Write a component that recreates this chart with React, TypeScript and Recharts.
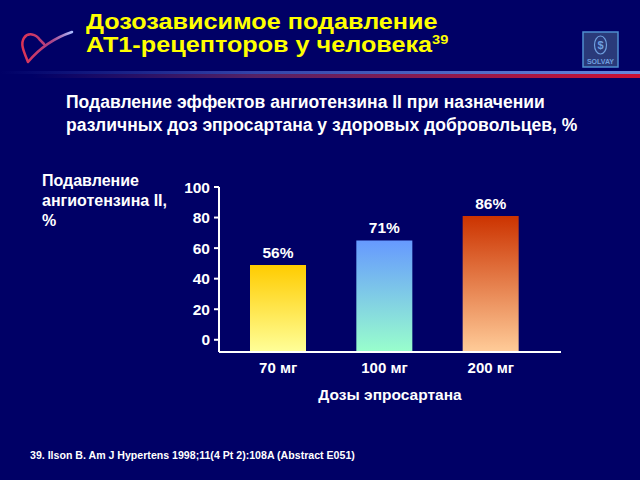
import { BarChart, Bar, XAxis, YAxis, Cell, LabelList } from "recharts";

// dose categories and measured bar tops (the axis line sits below zero)
const doses = ["70 мг", "100 мг", "200 мг"];
const barTops = [49, 65, 81];
const barLabels = ["56%", "71%", "86%"];
const yTicks = [0, 20, 40, 60, 80, 100];
const AXIS_MIN = -8;

const gradients = [
  { id: "g0", top: "#ffcc00", bottom: "#ffff99" },
  { id: "g1", top: "#6699ff", bottom: "#99ffcc" },
  { id: "g2", top: "#cc3300", bottom: "#ffcc99" },
];

const data = doses.map((dose, i) => ({
  dose,
  range: [AXIS_MIN, barTops[i]],
  label: barLabels[i],
}));

const FONT = '"Liberation Sans", Arial, sans-serif';

export default function App() {
  return (
    <div
      style={{
        position: "absolute",
        left: 0,
        top: 0,
        width: 640,
        height: 480,
        background: "#000066",
        fontFamily: FONT,
        fontWeight: "bold",
        overflow: "hidden",
      }}
    >
      {/* heart logo */}
      <svg style={{ position: "absolute", left: 14, top: 24 }} width={64} height={44}>
        <defs>
          <linearGradient id="heart" x1="0" y1="0" x2="1" y2="0">
            <stop offset="0%" stopColor="#dd3355" />
            <stop offset="60%" stopColor="#aa4488" />
            <stop offset="100%" stopColor="#aabbff" />
          </linearGradient>
        </defs>
        <path
          d="M14 38 C10 28 6 20 10 14 C14 8 22 10 26 16 L30 20 M14 38 C24 26 40 14 58 8"
          stroke="url(#heart)"
          strokeWidth={2.5}
          fill="none"
          strokeLinecap="round"
        />
      </svg>

      <div
        style={{
          position: "absolute",
          left: 86,
          top: 10,
          color: "#ffff00",
          fontSize: 22.5,
          lineHeight: "23px",
          transform: "scaleX(1.12)",
          transformOrigin: "left top",
          whiteSpace: "nowrap",
        }}
      >
        Дозозависимое подавление
        <br />
        АТ1-рецепторов у человека
        <sup style={{ fontSize: 13, verticalAlign: "8px", lineHeight: 0 }}>39</sup>
      </div>

      {/* Solvay logo */}
      <svg style={{ position: "absolute", left: 582, top: 31 }} width={38} height={38}>
        <rect x={1} y={1} width={35} height={35} fill="#2a3a7a" stroke="#4f8fcf" strokeWidth={1.5} />
        <ellipse cx={18.5} cy={14} rx={6} ry={9} fill="none" stroke="#6f9fdf" strokeWidth={1.2} />
        <text x={18.5} y={18} fill="#6f9fdf" fontSize={11} textAnchor="middle" fontFamily={FONT}>
          $
        </text>
        <text x={18.5} y={33} fill="#6f9fdf" fontSize={7} textAnchor="middle" fontFamily={FONT}>
          SOLVAY
        </text>
      </svg>

      {/* separator stripes */}
      <div
        style={{
          position: "absolute",
          left: 0,
          top: 71,
          width: 640,
          height: 3,
          background: "linear-gradient(to right, #000066 0%, #3344aa 40%, #6688dd 100%)",
        }}
      />
      <div
        style={{
          position: "absolute",
          left: 0,
          top: 74,
          width: 640,
          height: 4,
          background: "linear-gradient(to right, #000066 5%, #552266 40%, #cc1133 100%)",
        }}
      />

      <div
        style={{
          position: "absolute",
          left: 66,
          top: 91,
          color: "#ffffff",
          fontSize: 17.5,
          lineHeight: "23px",
        }}
      >
        Подавление эффектов ангиотензина II при назначении
        <br />
        различных доз эпросартана у здоровых добровольцев, %
      </div>

      <div
        style={{
          position: "absolute",
          left: 42,
          top: 171,
          color: "#ffffff",
          fontSize: 16,
          lineHeight: "20px",
        }}
      >
        Подавление
        <br />
        ангиотензина II,
        <br />%
      </div>

      <div style={{ position: "absolute", left: 0, top: 0 }}>
        <BarChart
          width={640}
          height={480}
          data={data}
          margin={{ top: 187, right: 79, bottom: 68, left: 159 }}
          barSize={56}
        >
          <defs>
            {gradients.map((g) => (
              <linearGradient key={g.id} id={g.id} x1="0" y1="0" x2="0" y2="1">
                <stop offset="0%" stopColor={g.top} />
                <stop offset="100%" stopColor={g.bottom} />
              </linearGradient>
            ))}
          </defs>
          <XAxis
            dataKey="dose"
            height={60}
            padding={{ left: 6, right: 17 }}
            axisLine={{ stroke: "#ffffff", strokeWidth: 2 }}
            tickLine={false}
            tickSize={0}
            tickMargin={10}
            tick={{ fill: "#ffffff", fontSize: 15, fontWeight: "bold", fontFamily: FONT }}
            label={{
              value: "Дозы эпросартана",
              position: "insideBottom",
              offset: 12,
              fill: "#ffffff",
              fontSize: 15.5,
              fontWeight: "bold",
              fontFamily: FONT,
            }}
          />
          <YAxis
            width={60}
            domain={[AXIS_MIN, 100]}
            ticks={yTicks}
            interval={0}
            allowDataOverflow
            axisLine={{ stroke: "#ffffff", strokeWidth: 2 }}
            tickLine={{ stroke: "#ffffff", strokeWidth: 2 }}
            tickSize={5}
            tickMargin={4}
            tick={{ fill: "#ffffff", fontSize: 15.5, fontWeight: "bold", fontFamily: FONT }}
          />
          <Bar dataKey="range" isAnimationActive={false}>
            {data.map((d, i) => (
              <Cell key={d.dose} fill={`url(#${gradients[i].id})`} />
            ))}
            <LabelList
              dataKey="label"
              position="top"
              offset={7}
              fill="#ffffff"
              fontSize={15.5}
              fontWeight="bold"
              fontFamily={FONT}
            />
          </Bar>
        </BarChart>
      </div>

      <div
        style={{
          position: "absolute",
          left: 30,
          top: 449,
          color: "#ffffff",
          fontSize: 10.6,
        }}
      >
        39. Ilson B. Am J Hypertens 1998;11(4 Pt 2):108A (Abstract E051)
      </div>
    </div>
  );
}
